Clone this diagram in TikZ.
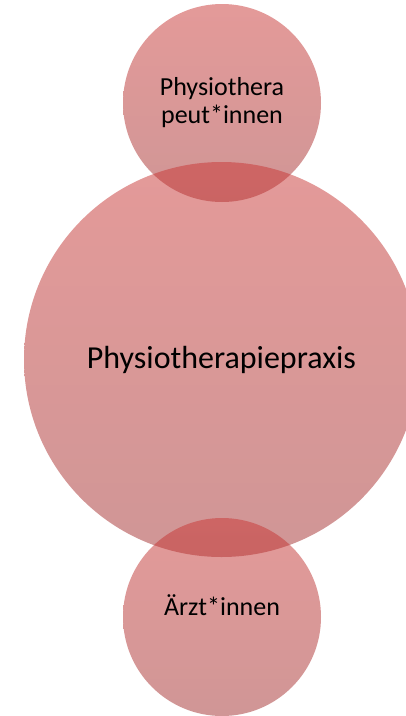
\documentclass[tikz,border=0pt]{standalone}
\usepackage{fontspec}
\setmainfont{Carlito}
\usepackage{xcolor}
\definecolor{bubbletop}{RGB}{201,53,51}
\definecolor{bubblebottom}{RGB}{161,45,45}

\begin{document}
\begin{tikzpicture}[
    x=1pt, y=-1pt,
    bubble/.style={circle, inner sep=0pt, top color=bubbletop, bottom color=bubblebottom, draw=none, fill opacity=0.5, text opacity=1, align=center},
    small/.style={font=\fontsize{26}{28}\selectfont},
    big/.style={font=\fontsize{32}{36}\selectfont},
]
\useasboundingbox (0,0) rectangle (405,716);

% Top: staff
\node[bubble, small, minimum size=198pt] (staff) at (222,103) {Physiothera\\peut*innen};

% Middle: practice
\node[bubble, big, minimum size=395pt] (practice) at (221.5,359.5) {Physiotherapiepraxis};

% Bottom: doctors
\node[bubble, minimum size=198pt] (doctors) at (222,617) {};
\node[small] (doctorslabel) at ([yshift=12pt]doctors.center) {Ärzt*innen};

\end{tikzpicture}
\end{document}
